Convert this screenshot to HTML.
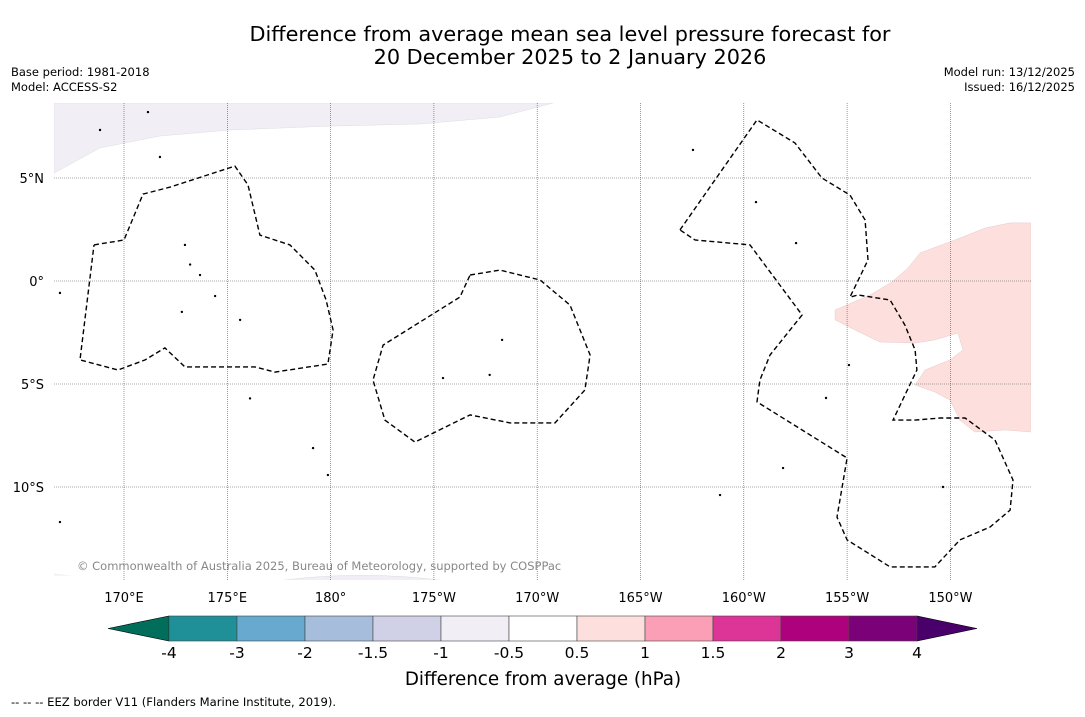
<!DOCTYPE html>
<html><head><meta charset="utf-8"><style>
body{margin:0;background:#fff;font-family:"DejaVu Sans","Liberation Sans",sans-serif}
svg text{font-family:"DejaVu Sans","Liberation Sans",sans-serif}
</style></head><body>
<svg id="c" width="1085" height="713" xmlns="http://www.w3.org/2000/svg">
<text x="570" y="41" font-size="20.8" text-anchor="middle">Difference from average mean sea level pressure forecast for</text>
<text x="570" y="64" font-size="20.8" text-anchor="middle">20 December 2025 to 2 January 2026</text>
<text x="11" y="76" font-size="11.5">Base period: 1981-2018</text>
<text x="11" y="91" font-size="11.5">Model: ACCESS-S2</text>
<text x="1075" y="76" font-size="11.5" text-anchor="end">Model run: 13/12/2025</text>
<text x="1075" y="91" font-size="11.5" text-anchor="end">Issued: 16/12/2025</text>
<g id="map"></g>
<g id="cb"></g>
<text x="543" y="685" font-size="18.3" text-anchor="middle">Difference from average (hPa)</text>
<text x="11" y="706" font-size="11.6">--  --  -- EEZ border V11 (Flanders Marine Institute, 2019).</text>
</svg>
<script>
const lonTicks=[170,175,180,185,190,195,200,205,210];
const lonLabels=["170°E","175°E","180°","175°W","170°W","165°W","160°W","155°W","150°W"];
const latTicks=[5,0,-5,-10];
const latLabels=["5°N","0°","5°S","10°S"];
const cbLevels=["-4","-3","-2","-1.5","-1","-0.5","0.5","1","1.5","2","3","4"];
const cbColors=["#1f9098","#67a9cf","#a6bddb","#d0d1e6","#f1eef6","#ffffff","#fde0dd","#fa9fb5","#dd3497","#ae017e","#7a0177"];
const cbLow="#006e5a", cbHigh="#49006a";
// contour shapes (lon, lat)
const contourA=[[168.55,1.75],[170.0,1.99],[170.92,4.22],[172.23,4.56],[175.37,5.58],[176.0,4.66],[176.58,2.23],[178.03,1.75],[179.24,0.53],[179.78,-0.92],[180.12,-2.38],[179.87,-4.03],[177.31,-4.42],[176.34,-4.17],[172.95,-4.17],[171.98,-3.25],[171.02,-3.83],[169.71,-4.32],[167.87,-3.83],[168.55,1.75]];
const contourB=[[186.75,0.29],[188.2,0.53],[190.14,0.05],[191.59,-1.17],[192.56,-3.59],[192.31,-5.29],[190.86,-6.89],[188.68,-6.89],[186.75,-6.5],[184.08,-7.82],[182.63,-6.75],[182.05,-4.81],[182.54,-3.11],[186.26,-0.78],[186.75,0.29]];
const contourC=[[196.91,2.48],[200.64,7.82],[202.48,6.7],[203.78,5.0],[205.14,4.17],[205.87,2.96],[206.01,1.02],[205.14,-0.78],[205.53,-0.68],[207.08,-0.92],[207.8,-2.14],[208.29,-3.35],[208.38,-4.32],[207.22,-6.75],[208.29,-6.75],[209.5,-6.65],[210.71,-6.65],[212.16,-7.72],[213.03,-9.66],[212.89,-11.12],[211.92,-11.94],[210.46,-12.57],[209.25,-13.88],[207.08,-13.88],[205.0,-12.57],[204.51,-11.46],[205.0,-8.59],[200.64,-5.87],[200.78,-4.81],[201.27,-3.59],[202.82,-1.65],[200.3,1.75],[197.64,1.99],[196.91,2.48]];
const pinkRegion=[[204.42,-1.41],[206.11,-0.68],[207.17,-0.05],[207.95,0.63],[208.53,1.36],[210.22,1.99],[211.67,2.57],[212.89,2.82],[213.9,2.82],[213.9,-7.33],[212.64,-7.23],[211.19,-7.33],[210.46,-6.75],[209.98,-5.78],[209.25,-5.39],[208.29,-5.05],[208.77,-4.32],[209.98,-3.83],[210.61,-3.35],[210.37,-2.52],[209.25,-2.86],[208.29,-3.01],[206.59,-2.96],[205.38,-2.38],[204.42,-1.89]];
const lilacTop=[[166.61,5.24],[168.84,6.46],[171.74,7.04],[175.13,7.33],[179.97,7.52],[184.33,7.62],[188.2,7.96],[190.77,8.64],[166.61,8.64]];
const lilacBottom=[[166.6,-14.2],[167.5,-14.3],[166.6,-14.3]];
const lilacArc=[[177.4,-14.56],[181.5,-14.3],[185.6,-14.56]];
const islands=[[171.16,8.2],[168.84,7.33],[171.74,6.02],[172.95,1.75],[173.68,0.29],[174.41,-0.73],[175.62,-1.89],[166.9,-0.58],[188.3,-2.86],[187.7,-4.56],[185.44,-4.71],[200.59,3.83],[202.53,1.84],[201.9,-9.08],[198.85,-10.39],[209.64,-10.0],[205.09,-4.08],[203.98,-5.68],[197.54,6.36],[179.87,-9.42],[179.15,-8.11],[166.9,-11.7],[172.8,-1.5],[173.2,0.8],[176.1,-5.7]];

const X0=54,X1=1031,Y0=103,Y1=580;
const lonX=l=>124+(l-170)*20.66;
const latY=a=>281-a*20.6;
const NS="http://www.w3.org/2000/svg";
function mk(t,a,p){const e=document.createElementNS(NS,t);for(const k in a)e.setAttribute(k,a[k]);(p||document.getElementById('map')).appendChild(e);return e;}
const pts=arr=>arr.map(p=>lonX(p[0]).toFixed(1)+","+latY(p[1]).toFixed(1)).join(" ");
const clip=mk('clipPath',{id:'cl'});
mk('rect',{x:X0,y:Y0,width:X1-X0,height:Y1-Y0},clip);
const g=mk('g',{'clip-path':'url(#cl)'});
let e=mk('polygon',{points:pts(lilacTop),fill:'#f1eef6',stroke:'#ddd','stroke-width':0.5},g);


e=mk('polygon',{points:pts(lilacBottom),fill:'#f1eef6'},g);


e=mk('path',{d:"M"+lonX(lilacArc[0][0])+","+latY(lilacArc[0][1])+" Q"+lonX(lilacArc[1][0])+","+(latY(lilacArc[1][1])-6)+" "+lonX(lilacArc[2][0])+","+latY(lilacArc[2][1])+" Z",fill:'#f1eef6',stroke:'#ddd','stroke-width':0.5},g);


e=mk('polygon',{points:pts(pinkRegion),fill:'#fde0dd',stroke:'#e8c8c8','stroke-width':0.5},g);


lonTicks.forEach((l,i)=>{const x=lonX(l);
 let ln=mk('line',{x1:x,y1:Y0,x2:x,y2:Y1,stroke:'#555','stroke-width':0.6,'stroke-dasharray':'1,1'},g);
 
 
 let t=mk('text',{x:x,y:602,'font-size':13,'text-anchor':'middle'});t.textContent=lonLabels[i];
 
 });
latTicks.forEach((a,i)=>{const y=latY(a);
 let ln=mk('line',{x1:X0,y1:y,x2:X1,y2:y,stroke:'#555','stroke-width':0.6,'stroke-dasharray':'1,1'},g);
 
 
 let t=mk('text',{x:44,y:y+5,'font-size':13,'text-anchor':'end'});t.textContent=latLabels[i];
 
 });
islands.forEach(p=>{let c=mk('circle',{cx:lonX(p[0]),cy:latY(p[1]),r:1.2,fill:'#000'},g);
 
 });
[contourA,contourB,contourC].forEach((c,i)=>{let p=mk('polyline',{points:pts(c),fill:'none',stroke:'#000','stroke-width':1.4,'stroke-dasharray':'5,3'},g);
 
 });
let ct=mk('text',{x:77,y:570,'font-size':11.5,fill:'#888'},g);ct.textContent="© Commonwealth of Australia 2025, Bureau of Meteorology, supported by COSPPac";


const cb=document.getElementById('cb');
const cbx0=169,cbx1=917,cby=616,cbh=25,sw=(cbx1-cbx0)/cbColors.length;
let tl=mk('polygon',{points:`${cbx0},${cby} ${cbx0},${cby+cbh} 108,${cby+cbh/2}`,fill:cbLow,stroke:'#000','stroke-width':0.6},cb);


let tr=mk('polygon',{points:`${cbx1},${cby} ${cbx1},${cby+cbh} 977,${cby+cbh/2}`,fill:cbHigh,stroke:'#000','stroke-width':0.6},cb);


cbColors.forEach((c,i)=>{let r=mk('rect',{x:cbx0+i*sw,y:cby,width:sw,height:cbh,fill:c,stroke:'#444','stroke-width':0.6},cb);
 
 });
cbLevels.forEach((l,i)=>{let t=mk('text',{x:cbx0+i*sw,y:658,'font-size':15.5,'text-anchor':'middle'},cb);t.textContent=l;
 
 });
</script>
</body></html>
